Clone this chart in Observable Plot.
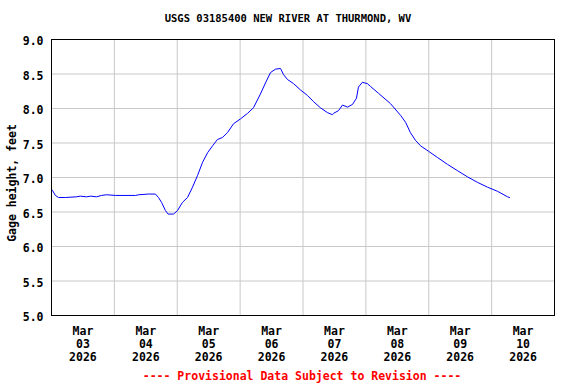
<!DOCTYPE html>
<html>
<head>
<meta charset="utf-8">
<script src="https://cdn.jsdelivr.net/npm/d3@7"></script>
<script src="https://cdn.jsdelivr.net/npm/@observablehq/plot@0.6"></script>
<style>
  html, body { margin: 0; padding: 0; background: #fff; }
</style>
</head>
<body>
<div id="chart"></div>
<script>
const title = "USGS 03185400 NEW RIVER AT THURMOND, WV";
const yLabel = "Gage height, feet";
const footer = "---- Provisional Data Subject to Revision ----";

const times = [
  "2026-03-03T00:00Z","2026-03-03T00:25Z","2026-03-03T01:30Z","2026-03-03T02:40Z","2026-03-03T05:20Z",
  "2026-03-03T09:30Z","2026-03-03T11:00Z","2026-03-03T13:20Z","2026-03-03T15:00Z","2026-03-03T17:10Z",
  "2026-03-03T19:05Z","2026-03-03T21:00Z","2026-03-04T00:25Z","2026-03-04T08:05Z","2026-03-04T09:20Z",
  "2026-03-04T13:00Z","2026-03-04T15:40Z","2026-03-04T16:50Z","2026-03-04T18:00Z","2026-03-04T19:30Z",
  "2026-03-04T20:30Z","2026-03-04T22:35Z","2026-03-05T00:05Z","2026-03-05T02:00Z","2026-03-05T03:55Z","2026-03-05T05:50Z",
  "2026-03-05T07:45Z","2026-03-05T09:40Z","2026-03-05T11:35Z","2026-03-05T13:30Z","2026-03-05T15:20Z",
  "2026-03-05T17:15Z","2026-03-05T19:10Z","2026-03-05T21:30Z","2026-03-06T00:10Z","2026-03-06T02:50Z",
  "2026-03-06T05:05Z","2026-03-06T07:45Z","2026-03-06T09:40Z","2026-03-06T11:35Z","2026-03-06T13:30Z",
  "2026-03-06T15:25Z","2026-03-06T16:35Z","2026-03-06T18:05Z","2026-03-06T20:25Z","2026-03-06T23:00Z",
  "2026-03-07T01:40Z","2026-03-07T04:00Z","2026-03-07T06:40Z","2026-03-07T09:20Z","2026-03-07T11:15Z",
  "2026-03-07T11:40Z","2026-03-07T13:35Z","2026-03-07T15:05Z","2026-03-07T17:00Z","2026-03-07T18:55Z",
  "2026-03-07T20:25Z","2026-03-07T21:10Z","2026-03-07T22:40Z","2026-03-08T00:35Z","2026-03-08T01:45Z",
  "2026-03-08T04:50Z","2026-03-08T09:25Z","2026-03-08T13:15Z","2026-03-08T15:10Z","2026-03-08T17:00Z",
  "2026-03-08T18:55Z","2026-03-08T20:50Z","2026-03-08T23:55Z","2026-03-09T03:20Z","2026-03-09T07:10Z",
  "2026-03-09T10:55Z","2026-03-09T14:45Z","2026-03-09T18:35Z","2026-03-09T22:25Z","2026-03-10T02:15Z",
  "2026-03-10T06:05Z","2026-03-10T06:50Z"
];
const gage = [
  6.83, 6.81, 6.74, 6.71, 6.71,
  6.72, 6.73, 6.72, 6.73, 6.72,
  6.74, 6.75, 6.74, 6.74, 6.75,
  6.76, 6.76, 6.71, 6.64, 6.52,
  6.47, 6.47, 6.52, 6.64, 6.71, 6.86,
  7.03, 7.22, 7.36, 7.46, 7.55,
  7.58, 7.65, 7.78, 7.85, 7.93,
  8.01, 8.21, 8.37, 8.52, 8.57,
  8.58, 8.49, 8.42, 8.36, 8.27,
  8.19, 8.10, 8.01, 7.94, 7.91,
  7.93, 7.97, 8.05, 8.02, 8.06,
  8.15, 8.31, 8.38, 8.36, 8.32,
  8.22, 8.07, 7.90, 7.80, 7.65,
  7.54, 7.46, 7.38, 7.29, 7.19,
  7.10, 7.01, 6.93, 6.86, 6.80,
  6.72, 6.71
];
const dayLabels = ["2026-03-03","2026-03-04","2026-03-05","2026-03-06","2026-03-07","2026-03-08","2026-03-09","2026-03-10"];
const yTicks = [5.0, 5.5, 6.0, 6.5, 7.0, 7.5, 8.0, 8.5, 9.0];

const parse = d3.utcParse("%Y-%m-%dT%H:%MZ");
const parseDay = d3.utcParse("%Y-%m-%d");
const data = times.map((t, i) => ({time: parse(t), value: gage[i]}));
const labelTicks = dayLabels.map(d => d3.utcHour.offset(parseDay(d), 12));
const gridTicks = dayLabels.map(d => parseDay(d)).concat([d3.utcDay.offset(parseDay(dayLabels[dayLabels.length - 1]), 1)]);
const fmt = d3.utcFormat("%b\n%d\n%Y");

const font = "'DejaVu Sans Mono', 'Liberation Mono', monospace";

const chart = Plot.plot({
  width: 576,
  height: 384,
  marginTop: 39,
  marginLeft: 51,
  marginRight: 22,
  marginBottom: 69,
  style: {fontFamily: font, fontWeight: "bold", fontSize: "11.5px", background: "#fff", color: "#000"},
  x: {type: "utc", domain: [gridTicks[0], gridTicks[gridTicks.length - 1]]},
  y: {domain: [5, 9]},
  marks: [
    Plot.gridX(gridTicks, {stroke: "#c8c8c8", strokeOpacity: 1, strokeWidth: 1}),
    Plot.gridY(yTicks, {stroke: "#c8c8c8", strokeOpacity: 1, strokeWidth: 1}),
    Plot.axisY(yTicks, {tickSize: 0, tickPadding: 8, tickFormat: d3.format(".1f"), label: null, dy: 2, fill: "#000"}),
    Plot.axisX(labelTicks, {tickSize: 0, tickPadding: 10, tickFormat: fmt, label: null, lineHeight: 1.13, fill: "#000"}),
    Plot.line(data, {x: "time", y: "value", stroke: "#0000ff", strokeWidth: 1}),
    Plot.frame({stroke: "#000", strokeWidth: 1})
  ]
});

const svg = d3.select(chart);
svg.append("text")
  .attr("x", 288).attr("y", 19)
  .attr("text-anchor", "middle").attr("dominant-baseline", "middle")
  .style("font-size", "10.5px").style("font-weight", "bold").style("font-family", font)
  .attr("fill", "#000")
  .text(title);
svg.append("text")
  .attr("transform", "translate(12,183) rotate(-90)")
  .attr("text-anchor", "middle").attr("dominant-baseline", "middle")
  .style("font-size", "11.5px").style("font-weight", "bold").style("font-family", font)
  .attr("fill", "#000")
  .text(yLabel);
svg.append("text")
  .attr("x", 302).attr("y", 376)
  .attr("text-anchor", "middle").attr("dominant-baseline", "middle")
  .style("font-size", "11.5px").style("font-weight", "bold").style("font-family", font)
  .attr("fill", "#ff0000")
  .text(footer);

document.getElementById("chart").appendChild(chart);
</script>
</body>
</html>
